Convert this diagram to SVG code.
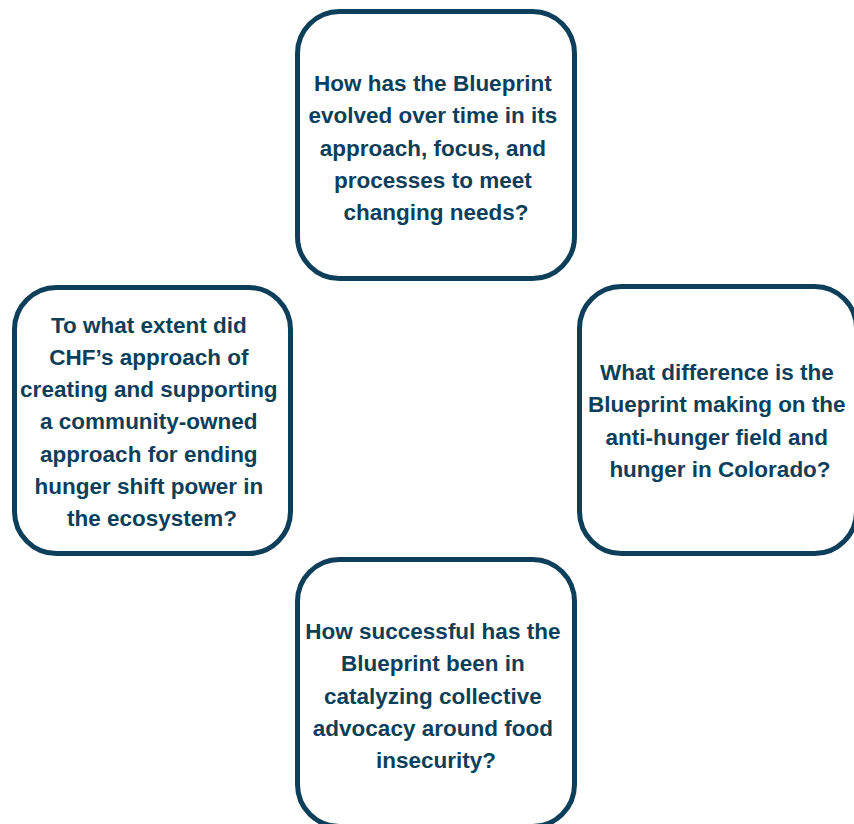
<svg xmlns="http://www.w3.org/2000/svg" width="854" height="824" viewBox="0 0 854 824">
  <style>
    .box { fill: #ffffff; stroke: #0d3f5a; stroke-width: 5; }
    .label { font-family: "Liberation Sans", Arial, sans-serif; font-weight: bold; font-size: 22.5px; fill: #0d3f5a; text-anchor: middle; }
  </style>
  <rect width="854" height="824" fill="#ffffff"/>

  <g id="node-evolution">
    <rect class="box" x="297.5" y="11.5" width="277" height="267" rx="42"/>
    <text class="label">
      <tspan x="436" y="91">How has the Blueprint</tspan>
      <tspan x="436" y="123.3">evolved over time in its</tspan>
      <tspan x="436" y="155.6">approach, focus, and</tspan>
      <tspan x="436" y="187.9">processes to meet</tspan>
      <tspan x="436" y="220.2">changing needs?</tspan>
    </text>
  </g>

  <g id="node-power">
    <rect class="box" x="14.5" y="287.5" width="276" height="266" rx="42"/>
    <text class="label">
      <tspan x="152" y="332.5">To what extent did</tspan>
      <tspan x="152" y="364.8">CHF’s approach of</tspan>
      <tspan x="152" y="397.1">creating and supporting</tspan>
      <tspan x="152" y="429.4">a community-owned</tspan>
      <tspan x="152" y="461.7">approach for ending</tspan>
      <tspan x="152" y="494">hunger shift power in</tspan>
      <tspan x="152" y="526.3">the ecosystem?</tspan>
    </text>
  </g>

  <g id="node-difference">
    <rect class="box" x="579.5" y="286.5" width="277" height="267" rx="42"/>
    <text class="label">
      <tspan x="720" y="380">What difference is the</tspan>
      <tspan x="720" y="412.3">Blueprint making on the</tspan>
      <tspan x="720" y="444.6">anti-hunger field and</tspan>
      <tspan x="720" y="476.9">hunger in Colorado?</tspan>
    </text>
  </g>

  <g id="node-advocacy">
    <rect class="box" x="297.5" y="559.5" width="277" height="267" rx="42"/>
    <text class="label">
      <tspan x="436" y="639">How successful has the</tspan>
      <tspan x="436" y="671.3">Blueprint been in</tspan>
      <tspan x="436" y="703.6">catalyzing collective</tspan>
      <tspan x="436" y="735.9">advocacy around food</tspan>
      <tspan x="436" y="768.2">insecurity?</tspan>
    </text>
  </g>

  <g id="connectors"/>
</svg>
